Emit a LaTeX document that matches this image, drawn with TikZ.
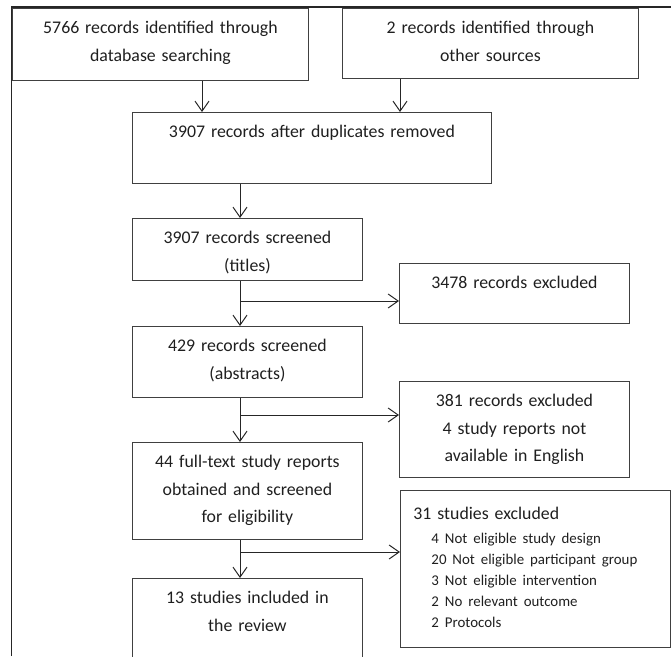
\documentclass[tikz,border=0pt]{standalone}
\usepackage{fontspec}
\setmainfont{Carlito}
\usetikzlibrary{arrows.meta}

\newcommand{\exclfont}{\fontsize{14.9}{21}\selectfont}

\tikzset{
    box/.style={draw=black!75, line width=0.9pt, anchor=north west, inner sep=0pt,
        align=center, text height=25.5pt, text=black!88,
        font=\fontsize{17.8}{27.5}\selectfont},
    arr/.style={draw=black!85, line width=1pt, -{Straight Barb[length=10pt,width=14pt]}}
}

\begin{document}
\begin{tikzpicture}[x=1pt, y=-1pt]
    \useasboundingbox (0,0) rectangle (671,656);

    % Outer frame
    \draw[line width=1.3pt, black!85] (11.5,656) -- (11.5,7) -- (671,7);

    % Identification
    \node[box, text width=296pt, text depth=46.5pt] (ident) at (12,8)
        {5766 records identified through\\database searching};
    \node[box, text width=296pt, text depth=44.5pt] (other) at (342,8)
        {2 records identified through\\other sources};
    \node[box, text width=359pt, text depth=45.5pt] (dedup) at (132,112)
        {3907 records after duplicates removed};

    % Screening
    \node[box, text width=230pt, text depth=36.5pt] (titles) at (132,218)
        {3907 records screened\\(titles)};
    \node[box, text width=230pt, text depth=34.5pt] (exTitles) at (399,263)
        {3478 records excluded};
    \node[box, text width=230pt, text depth=45.5pt] (abstr) at (132,326)
        {429 records screened\\(abstracts)};
    \node[box, text width=230pt, text depth=70.5pt] (exAbstr) at (399,381)
        {381 records excluded\\4 study reports not\\available in English};

    % Eligibility
    \node[box, text width=230pt, text depth=71.5pt] (full) at (132,442)
        {44 full-text study reports\\obtained and screened\\for eligibility};
    \node[box, align=left, inner xsep=13pt, text width=244pt, text height=29pt,
          text depth=128pt] (exFull) at (400,490)
        {31 studies excluded\\[3pt]
        \exclfont
        \hspace*{18pt}4 Not eligible study design\\
        \hspace*{18pt}20 Not eligible participant group\\
        \hspace*{18pt}3 Not eligible intervention\\
        \hspace*{18pt}2 No relevant outcome\\
        \hspace*{18pt}2 Protocols\par};

    % Included
    \node[box, text width=230pt, text depth=74.5pt] (incl) at (132,578)
        {13 studies included in\\the review};

    % Connectors
    \coordinate (a1) at (202,0);
    \coordinate (a2) at (400,0);
    \coordinate (col) at (240,0);
    \draw[arr] (ident.south -| a1) -- (dedup.north -| a1);
    \draw[arr] (other.south -| a2) -- (dedup.north -| a2);
    \draw[arr] (dedup.south -| col) -- (titles.north -| col);
    \draw[arr] (titles.south -| col) -- (abstr.north -| col);
    \draw[arr] (abstr.south -| col) -- (full.north -| col);
    \draw[arr] (full.south -| col) -- (incl.north -| col);

    % Exclusion branches
    \coordinate (b1) at (240,301);
    \coordinate (b2) at (240,415);
    \coordinate (b3) at (240,552);
    \draw[arr] (b1) -- (b1 -| exTitles.west);
    \draw[arr] (b2) -- (b2 -| exAbstr.west);
    \draw[arr] (b3) -- (b3 -| exFull.west);
\end{tikzpicture}
\end{document}
